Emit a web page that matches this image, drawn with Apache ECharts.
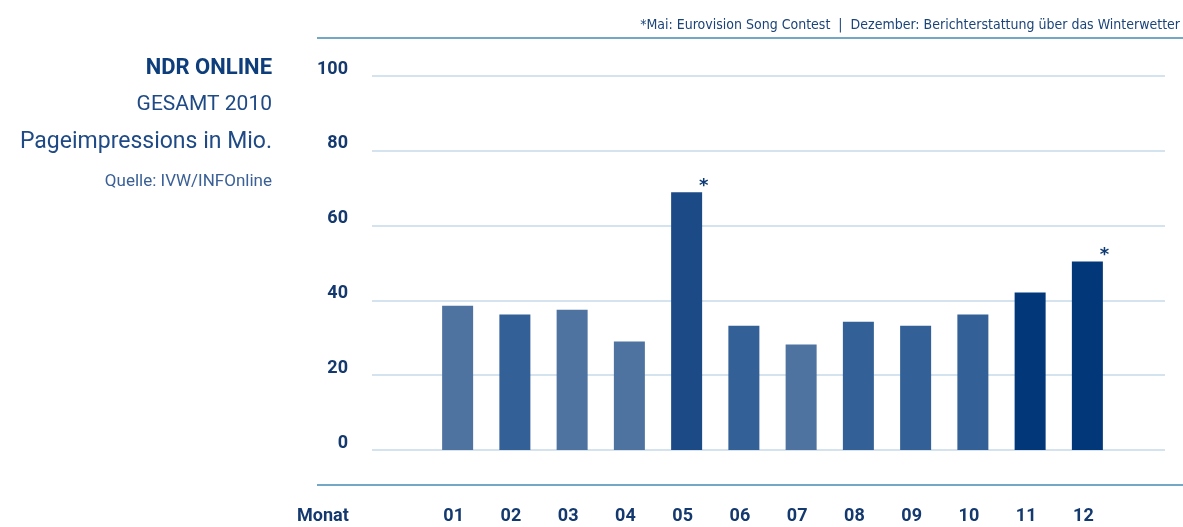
<!DOCTYPE html>
<html>
<head>
<meta charset="utf-8">
<script src="https://cdn.jsdelivr.net/npm/echarts@6/dist/echarts.min.js"></script>
<style>html,body{margin:0;padding:0;background:#fff}#c{width:1183px;height:527px}</style>
</head>
<body>
<div id="c"></div>
<script>
const categories = ['01','02','03','04','05','06','07','08','09','10','11','12'];
const values = [38.6, 36.2, 37.5, 29.0, 68.9, 33.2, 28.2, 34.3, 33.2, 36.2, 42.1, 50.4];
const notes = ['', '', '', '', '*', '', '', '', '', '', '', '*'];
const yTicks = [0, 20, 40, 60, 80, 100];
const barColors = ['#4e73a1','#336096','#4e73a1','#4e73a1','#1c4a86','#336096','#4e73a1','#336096','#336096','#336096','#023879','#023879'];

const COND = "'Liberation Sans Narrow', 'DejaVu Sans Condensed', sans-serif";
const NAVY = '#14396e';
const chart = echarts.init(document.getElementById('c'), null, {renderer: 'canvas'});

const data = values.map((v, i) => ({
  value: v,
  itemStyle: {color: barColors[i]},
  label: notes[i] ? {show: true, formatter: notes[i]} : {show: false}
}));

chart.setOption({
  animation: false,
  grid: [
    {left: 372, right: 18, top: 76, bottom: 77},
    {left: 429, right: 67, top: 76, bottom: 77}
  ],
  xAxis: [
    {gridIndex: 0, type: 'category', data: categories, show: false},
    {gridIndex: 1, type: 'category', data: categories,
     axisLine: {show: false}, axisTick: {show: false},
     axisLabel: {margin: 57, color: NAVY, fontFamily: 'Roboto', fontSize: 18, fontWeight: 'bold', padding: [0, 8, 0, 0]}}
  ],
  yAxis: [
    {gridIndex: 0, type: 'value', min: yTicks[0], max: yTicks[yTicks.length-1], interval: 20,
     axisLine: {show: false}, axisTick: {show: false},
     splitLine: {lineStyle: {color: '#c6dae8', width: 1.5}},
     axisLabel: {margin: 24, color: NAVY, fontFamily: 'Roboto', fontSize: 18, fontWeight: 'bold',
       verticalAlign: 'bottom', lineHeight: 14}},
    {gridIndex: 1, type: 'value', min: 0, max: 100, show: false, splitLine: {show: false}}
  ],
  series: [{
    type: 'bar', xAxisIndex: 1, yAxisIndex: 1, data: data, barWidth: 31,
    label: {position: 'top', offset: [17, 8], color: '#0d3a75', fontSize: 18, fontWeight: 'bold', fontFamily: 'DejaVu Sans'}
  }],
  graphic: [
    {type: 'line', shape: {x1: 317, y1: 38, x2: 1183, y2: 38}, style: {stroke: '#74a6c6', lineWidth: 2}},
    {type: 'line', shape: {x1: 317, y1: 485, x2: 1183, y2: 485}, style: {stroke: '#74a6c6', lineWidth: 2}},
    {type: 'text', x: 1180, y: 25, style: {text: '*Mai: Eurovision Song Contest  |  Dezember: Berichterstattung über das Winterwetter',
      textAlign: 'right', textVerticalAlign: 'middle', fill: '#1b4479', font: "14px " + COND}},
    {type: 'text', x: 272, y: 68, style: {text: 'NDR ONLINE', textAlign: 'right', textVerticalAlign: 'middle', fill: '#0d3d7a', font: "bold 22px Roboto"}},
    {type: 'text', x: 272, y: 105, style: {text: 'GESAMT 2010', textAlign: 'right', textVerticalAlign: 'middle', fill: '#1f4a85', font: "21px Roboto"}},
    {type: 'text', x: 272, y: 142, style: {text: 'Pageimpressions in Mio.', textAlign: 'right', textVerticalAlign: 'middle', fill: '#1f4a85', font: "23px Roboto"}},
    {type: 'text', x: 272, y: 182, style: {text: 'Quelle: IVW/INFOnline', textAlign: 'right', textVerticalAlign: 'middle', fill: '#3a6096', font: "17px Roboto"}},
    {type: 'text', x: 297, y: 516, style: {text: 'Monat', textAlign: 'left', textVerticalAlign: 'middle', fill: NAVY, font: "bold 18px Roboto"}}
  ]
});
</script>
</body>
</html>
